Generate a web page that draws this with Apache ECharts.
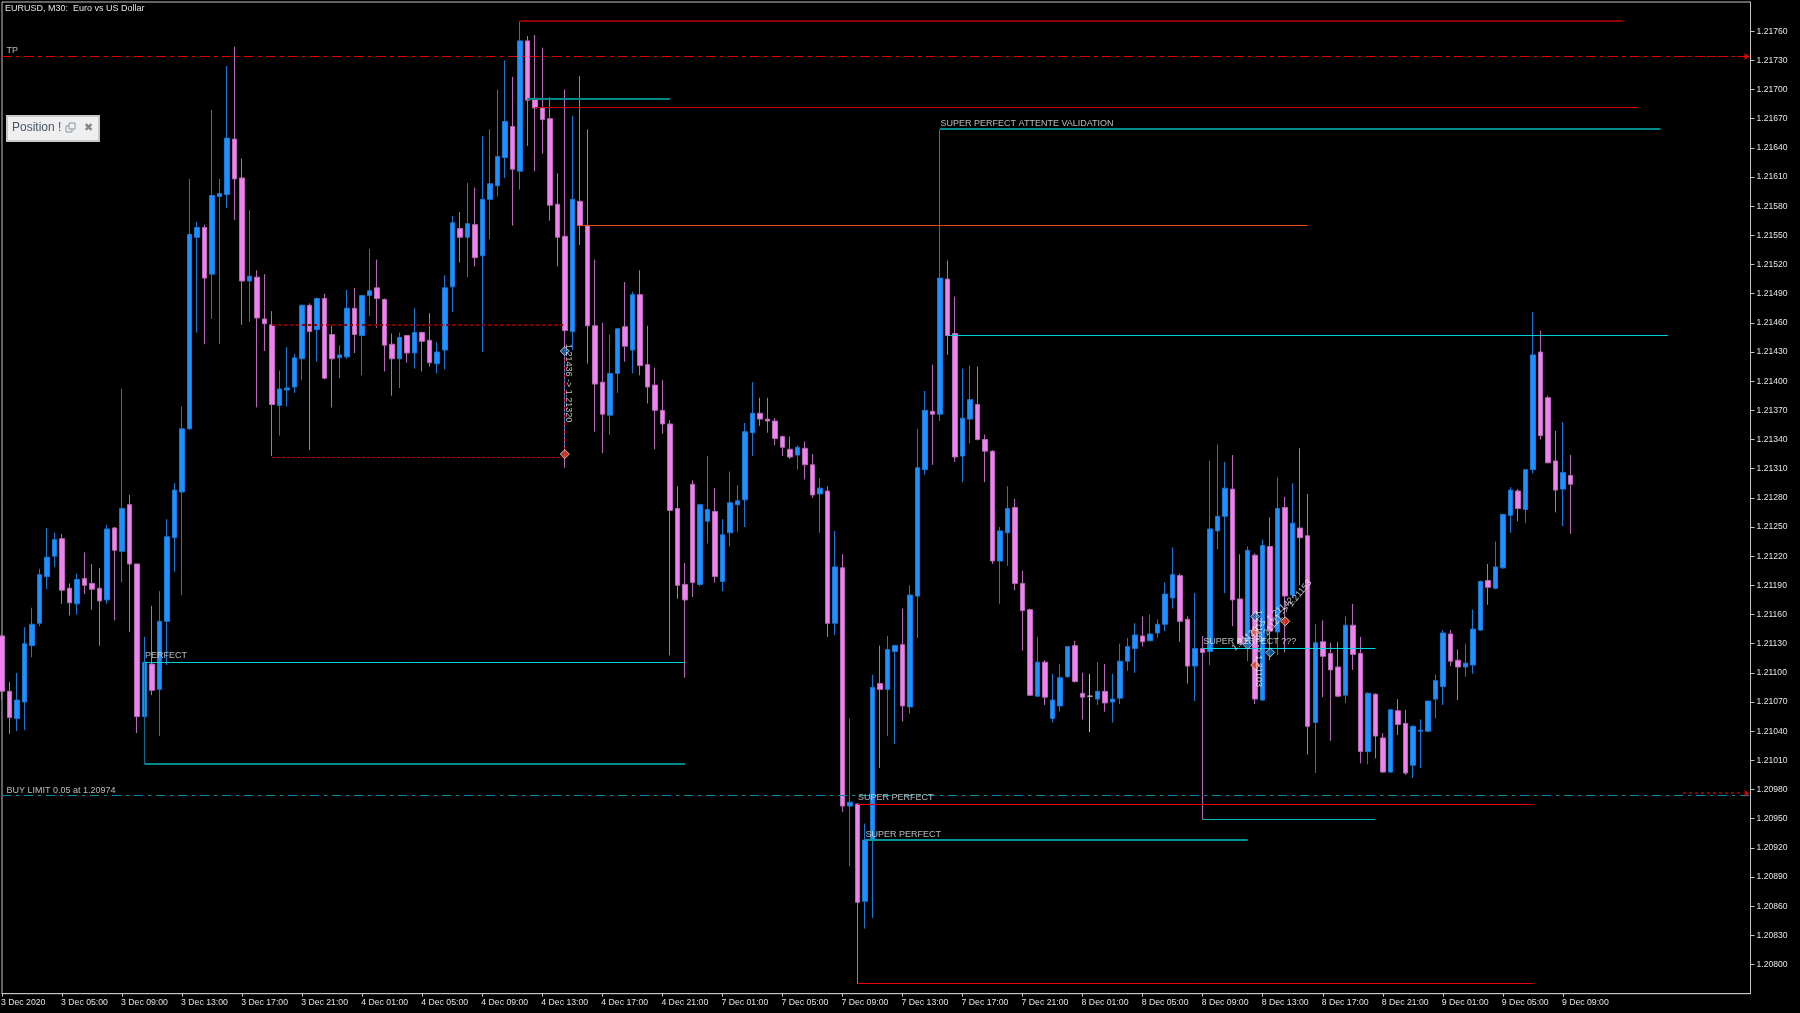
<!DOCTYPE html>
<html>
<head>
<meta charset="utf-8">
<style>html,body{margin:0;padding:0;background:#000;}#chart{width:1800px;height:1013px;}</style>
<script src="https://cdn.jsdelivr.net/npm/echarts@6/dist/echarts.min.js"></script>
</head>
<body>
<div id="chart"></div>
<script>
const chartTitle = "EURUSD, M30:  Euro vs US Dollar";
const tickLabels = ["3 Dec 2020","3 Dec 05:00","3 Dec 09:00","3 Dec 13:00","3 Dec 17:00","3 Dec 21:00","4 Dec 01:00","4 Dec 05:00","4 Dec 09:00","4 Dec 13:00","4 Dec 17:00","4 Dec 21:00","7 Dec 01:00","7 Dec 05:00","7 Dec 09:00","7 Dec 13:00","7 Dec 17:00","7 Dec 21:00","8 Dec 01:00","8 Dec 05:00","8 Dec 09:00","8 Dec 13:00","8 Dec 17:00","8 Dec 21:00","9 Dec 01:00","9 Dec 05:00","9 Dec 09:00"];
const priceTicks = [1.21760,1.21730,1.21700,1.21670,1.21640,1.21610,1.21580,1.21550,1.21520,1.21490,1.21460,1.21430,1.21400,1.21370,1.21340,1.21310,1.21280,1.21250,1.21220,1.21190,1.21160,1.21130,1.21100,1.21070,1.21040,1.21010,1.20980,1.20950,1.20920,1.20890,1.20860,1.20830,1.20800];

const opens = [1.21138,1.21081,1.21053,1.21070,1.21128,1.21151,1.21199,1.21220,1.21238,1.21187,
1.21171,1.21197,1.21192,1.21187,1.21175,1.21249,1.21225,1.21273,1.21212,1.21055,
1.21109,1.21083,1.21153,1.21239,1.21286,1.21351,1.21548,1.21558,1.21510,1.21590,
1.21592,1.21649,1.21609,1.21503,1.21507,1.21464,1.21458,1.21375,1.21391,1.21394,
1.21423,1.21478,1.21453,1.21485,1.21448,1.21424,1.21425,1.21475,1.21447,1.21488,
1.21496,1.21484,1.21438,1.21423,1.21447,1.21429,1.21450,1.21442,1.21418,1.21432,
1.21497,1.21557,1.21548,1.21561,1.21529,1.21587,1.21601,1.21630,1.21662,1.21616,
1.21750,1.21691,1.21681,1.21670,1.21582,1.21549,1.21451,1.21585,1.21560,1.21457,
1.21399,1.21365,1.21408,1.21456,1.21432,1.21489,1.21417,1.21396,1.21370,1.21356,
1.21269,1.21191,1.21294,1.21191,1.21256,1.21266,1.21194,1.21244,1.21273,1.21278,
1.21347,1.21367,1.21361,1.21359,1.21343,1.21330,1.21324,1.21331,1.21314,1.21284,
1.21287,1.21151,1.21208,1.20963,1.20965,1.20865,1.20928,1.21089,1.21083,1.21122,
1.21129,1.21065,1.21179,1.21309,1.21369,1.21366,1.21505,1.21449,1.21323,1.21361,
1.21376,1.21340,1.21328,1.21215,1.21244,1.21270,1.21192,1.21165,1.21076,1.21111,
1.21053,1.21066,1.21096,1.21128,1.21079,1.21076,1.21073,1.21081,1.21070,1.21074,
1.21112,1.21125,1.21138,1.21133,1.21141,1.21150,1.21177,1.21200,1.21155,1.21107,
1.21125,1.21122,1.21246,1.21261,1.21289,1.21176,1.21127,1.21221,1.21072,1.21230,
1.21142,1.21270,1.21180,1.21249,1.21241,1.21049,1.21132,1.21120,1.21106,1.21077,
1.21149,1.21120,1.21019,1.21078,1.21033,1.20998,1.21061,1.21048,1.21005,1.21040,
1.21040,1.21073,1.21086,1.21140,1.21113,1.21106,1.21108,1.21144,1.21195,1.21187,
1.21208,1.21262,1.21287,1.21268,1.21309,1.21430,1.21383,1.21318,1.21289,1.21303];

const closes = [1.21081,1.21054,1.21072,1.21130,1.21150,1.21201,1.21219,1.21237,1.21185,1.21172,
1.21196,1.21190,1.21186,1.21174,1.21248,1.21226,1.21269,1.21212,1.21055,1.21111,
1.21082,1.21153,1.21240,1.21288,1.21351,1.21551,1.21558,1.21506,1.21591,1.21593,
1.21650,1.21608,1.21503,1.21508,1.21465,1.21459,1.21376,1.21392,1.21393,1.21424,
1.21478,1.21451,1.21485,1.21403,1.21423,1.21427,1.21475,1.21448,1.21488,1.21493,
1.21485,1.21437,1.21423,1.21445,1.21429,1.21450,1.21441,1.21419,1.21430,1.21496,
1.21563,1.21548,1.21562,1.21527,1.21587,1.21603,1.21631,1.21667,1.21618,1.21750,
1.21689,1.21681,1.21669,1.21581,1.21548,1.21452,1.21587,1.21560,1.21457,1.21397,
1.21366,1.21408,1.21454,1.21436,1.21489,1.21416,1.21394,1.21370,1.21356,1.21267,
1.21190,1.21175,1.21193,1.21273,1.21268,1.21199,1.21242,1.21275,1.21277,1.21348,
1.21367,1.21361,1.21359,1.21341,1.21332,1.21322,1.21332,1.21314,1.21283,1.21290,
1.21151,1.21209,1.20963,1.20967,1.20864,1.20928,1.21085,1.21083,1.21124,1.21128,
1.21066,1.21180,1.21311,1.21370,1.21366,1.21506,1.21447,1.21322,1.21362,1.21381,
1.21340,1.21328,1.21215,1.21246,1.21269,1.21192,1.21164,1.21077,1.21111,1.21075,
1.21072,1.21095,1.21127,1.21091,1.21075,1.21076,1.21081,1.21069,1.21073,1.21112,
1.21127,1.21139,1.21132,1.21140,1.21150,1.21181,1.21201,1.21153,1.21107,1.21125,
1.21121,1.21248,1.21261,1.21290,1.21175,1.21130,1.21226,1.21073,1.21231,1.21143,
1.21269,1.21179,1.21254,1.21239,1.21045,1.21131,1.21117,1.21103,1.21076,1.21149,
1.21119,1.21019,1.21079,1.21035,1.20998,1.21062,1.21047,1.20997,1.21045,1.21041,
1.21071,1.21092,1.21141,1.21112,1.21106,1.21110,1.21145,1.21194,1.21188,1.21209,
1.21263,1.21288,1.21269,1.21309,1.21427,1.21344,1.21316,1.21288,1.21306,1.21294];

const highs = [1.21140,1.21091,1.21100,1.21147,1.21167,1.21207,1.21249,1.21244,1.21243,1.21192,
1.21202,1.21224,1.21212,1.21208,1.21252,1.21250,1.21392,1.21283,1.21212,1.21137,
1.21169,1.21184,1.21258,1.21295,1.21374,1.21608,1.21564,1.21561,1.21679,1.21608,
1.21724,1.21744,1.21629,1.21576,1.21514,1.21510,1.21472,1.21411,1.21435,1.21428,
1.21479,1.21480,1.21486,1.21490,1.21457,1.21437,1.21494,1.21496,1.21488,1.21536,
1.21525,1.21485,1.21449,1.21450,1.21447,1.21475,1.21451,1.21470,1.21440,1.21509,
1.21570,1.21574,1.21604,1.21599,1.21652,1.21659,1.21700,1.21730,1.21713,1.21770,
1.21755,1.21756,1.21743,1.21692,1.21614,1.21700,1.21673,1.21714,1.21659,1.21525,
1.21460,1.21448,1.21454,1.21502,1.21492,1.21514,1.21457,1.21414,1.21401,1.21360,
1.21292,1.21213,1.21298,1.21274,1.21323,1.21290,1.21258,1.21307,1.21293,1.21357,
1.21399,1.21383,1.21383,1.21362,1.21344,1.21343,1.21334,1.21338,1.21325,1.21300,
1.21292,1.21246,1.21222,1.21053,1.20966,1.20945,1.21098,1.21128,1.21138,1.21129,
1.21166,1.21190,1.21351,1.21390,1.21417,1.21659,1.21524,1.21487,1.21413,1.21416,
1.21415,1.21345,1.21329,1.21250,1.21292,1.21279,1.21205,1.21166,1.21137,1.21113,
1.21099,1.21109,1.21127,1.21133,1.21100,1.21099,1.21111,1.21109,1.21099,1.21130,
1.21136,1.21151,1.21158,1.21160,1.21155,1.21193,1.21229,1.21202,1.21158,1.21182,
1.21138,1.21318,1.21335,1.21317,1.21324,1.21222,1.21230,1.21223,1.21237,1.21260,
1.21301,1.21281,1.21295,1.21331,1.21284,1.21150,1.21154,1.21131,1.21132,1.21158,
1.21171,1.21137,1.21080,1.21079,1.21038,1.21063,1.21073,1.21062,1.21046,1.21052,
1.21071,1.21098,1.21144,1.21144,1.21124,1.21130,1.21165,1.21195,1.21212,1.21235,
1.21263,1.21291,1.21289,1.21309,1.21471,1.21452,1.21385,1.21349,1.21358,1.21324];

const lows = [1.21072,1.21037,1.21040,1.21041,1.21116,1.21148,1.21186,1.21209,1.21171,1.21159,
1.21160,1.21181,1.21165,1.21128,1.21171,1.21154,1.21193,1.21142,1.21038,1.21031,
1.21077,1.21035,1.21108,1.21204,1.21180,1.21350,1.21450,1.21438,1.21464,1.21438,
1.21578,1.21566,1.21458,1.21461,1.21373,1.21431,1.21323,1.21344,1.21374,1.21388,
1.21401,1.21329,1.21420,1.21402,1.21373,1.21403,1.21423,1.21429,1.21406,1.21467,
1.21455,1.21410,1.21385,1.21393,1.21419,1.21413,1.21410,1.21415,1.21408,1.21412,
1.21471,1.21522,1.21507,1.21518,1.21430,1.21546,1.21590,1.21609,1.21560,1.21597,
1.21642,1.21616,1.21634,1.21565,1.21518,1.21311,1.21432,1.21540,1.21418,1.21348,
1.21326,1.21345,1.21388,1.21420,1.21408,1.21406,1.21377,1.21330,1.21346,1.21118,
1.21176,1.21095,1.21178,1.21189,1.21233,1.21193,1.21184,1.21230,1.21245,1.21250,
1.21323,1.21354,1.21347,1.21334,1.21323,1.21320,1.21309,1.21299,1.21280,1.21244,
1.21137,1.21139,1.20957,1.20901,1.20780,1.20837,1.20848,1.21002,1.21035,1.21027,
1.21050,1.21058,1.21136,1.21304,1.21314,1.21359,1.21427,1.21317,1.21296,1.21336,
1.21339,1.21296,1.21212,1.21171,1.21210,1.21185,1.21123,1.21076,1.21076,1.21067,
1.21049,1.21060,1.21095,1.21090,1.21052,1.21039,1.21067,1.21060,1.21049,1.21068,
1.21102,1.21100,1.21127,1.21133,1.21136,1.21143,1.21166,1.21132,1.21089,1.21071,
1.20949,1.21108,1.21227,1.21182,1.21148,1.21129,1.21112,1.21068,1.21071,1.21113,
1.21118,1.21121,1.21177,1.21190,1.21016,1.20997,1.21075,1.21030,1.21075,1.21069,
1.21103,1.21007,1.21006,1.21012,1.20997,1.20997,1.21036,1.20995,1.20992,1.21002,
1.21039,1.21053,1.21067,1.21107,1.21072,1.21096,1.21099,1.21143,1.21170,1.21186,
1.21207,1.21244,1.21256,1.21254,1.21305,1.21340,1.21316,1.21265,1.21251,1.21243];

// Drawn objects on the chart: [first bar, last bar, price]
const levelTopDark = [69, 216, 1.21770];
const levelTakeProfit = [0, 233, 1.21734];
const levelTakeProfitTail = [224, 232, 1.21734];
const levelTealHigh = [70, 89, 1.21690];
const levelRedHigh = [71, 218, 1.21682];
const levelAttente = [125, 221, 1.21659];
const levelOrange = [77, 174, 1.21560];
const levelCyanMid = [126, 222, 1.21447];
const levelDottedOpen = [36, 75, 1.21458];
const levelDashedStop = [36, 75, 1.21322];
const levelPerfect = [19, 91, 1.21111];
const levelPerfectLow = [19, 91, 1.21006];
const levelBuyLimit = [0, 233, 1.20974];
const levelBidTail = [224, 232, 1.20976];
const levelSuperRed = [114, 204, 1.20965];
const levelSuperRedLow = [114, 204, 1.20780];
const levelSuperTeal = [115, 166, 1.20928];
const levelQuestion = [160, 183, 1.21125];
const levelQuestionLow = [160, 183, 1.20949];
// Vertical pieces: [bar, price from, price to]
const edgePerfect = [19, 1.21111, 1.21006];
const tradeConnector = [75, 1.21431, 1.21325];

const textLabels = [
  ["TP", 0, 1.21740],
  ["BUY LIMIT 0.05 at 1.20974", 0, 1.20979],
  ["PERFECT", 19, 1.21118],
  ["SUPER PERFECT ATTENTE VALIDATION", 125, 1.21665],
  ["SUPER PERFECT", 114, 1.20972],
  ["SUPER PERFECT", 115, 1.20934],
  ["SUPER PERFECT ???", 160, 1.21132]
];
const tradeTexts = [
  ["1.21436 -> 1.21320", 75, 1.21398],
  ["1.21157 -> 1.21103", 167, 1.21125],
  ["1.21129 -> 1.21142", 168, 1.21150],
  ["1.21121 -> 1.21153", 171, 1.21164]
];
const entryMarks = [[75, 1.21431], [167, 1.21158], [166, 1.21129], [169, 1.21121]];
const exitMarks = [[75, 1.21325], [167, 1.21142], [167, 1.21108], [171, 1.21153]];
const priceArrows = [[232, 1.21734], [232, 1.20976]];

const BAR_SLOTS = 234;
const categories = Array.from({length: BAR_SLOTS}, (_, i) => (i % 8 === 0 && tickLabels[i / 8]) ? tickLabels[i / 8] : "");
const candleData = opens.map((o, i) => [o, closes[i], lows[i], highs[i]]);
const AXIS = "#c4c4c4", TXT = "#e4e4e4", FONT = "Liberation Sans";

const snap = (v, w) => (Math.round(w) % 2 ? Math.floor(v) + 0.5 : Math.round(v));
function level(seg, color, width, dash) {
  return {type: "custom", data: [seg], z: 5, silent: true, animation: false, clip: true,
    renderItem: (params, api) => {
      const a = api.coord([api.value(0), api.value(2)]);
      const b = api.coord([api.value(1), api.value(2)]);
      const y = snap(a[1], width);
      return {type: "line", shape: {x1: a[0], y1: y, x2: b[0], y2: y},
        style: {stroke: color, lineWidth: width, lineDash: dash || null, fill: null}};
    }};
}
function vertical(seg, color, width, dash) {
  return {type: "custom", data: [seg], z: 5, silent: true, animation: false, clip: true,
    renderItem: (params, api) => {
      const a = api.coord([api.value(0), api.value(1)]);
      const b = api.coord([api.value(0), api.value(2)]);
      const x = snap(a[0], width);
      return {type: "line", shape: {x1: x, y1: a[1], x2: x, y2: b[1]},
        style: {stroke: color, lineWidth: width, lineDash: dash || null, fill: null}};
    }};
}
const DASHDOT = [9, 5, 3, 5];

const chart = echarts.init(document.getElementById("chart"), null, {renderer: "canvas"});
chart.setOption({
  backgroundColor: "#000",
  animation: false,
  title: {text: chartTitle, left: 5, top: 4, padding: 0, textStyle: {color: TXT, fontFamily: FONT, fontSize: 9, fontWeight: "normal"}},
  grid: {left: 2, right: 49.5, top: 2, height: 991.7, show: true, borderColor: AXIS, borderWidth: 1, backgroundColor: "#000", outerBoundsMode: "none", containLabel: false},
  xAxis: {type: "category", data: categories, boundaryGap: false,
    axisLine: {show: true, lineStyle: {color: AXIS}},
    axisTick: {show: true, length: 3, interval: (i, v) => v !== "", lineStyle: {color: AXIS}},
    axisLabel: {show: true, interval: (i, v) => v !== "", color: TXT, fontFamily: FONT, fontSize: 8.7, align: "left", margin: 4, padding: [0, 0, 0, -1], hideOverlap: false},
    splitLine: {show: false}},
  yAxis: {type: "value", position: "right", scale: true, min: 1.20770, max: 1.21790,
    axisLine: {show: true, lineStyle: {color: AXIS}},
    axisTick: {show: true, length: 4, customValues: priceTicks, lineStyle: {color: AXIS}},
    axisLabel: {show: true, customValues: priceTicks, color: TXT, fontFamily: FONT, fontSize: 8.6, margin: 6, formatter: v => v.toFixed(5)},
    splitLine: {show: false}},
  series: [
    {type: "candlestick", data: candleData, barWidth: 5, z: 2, silent: true, animation: false,
      itemStyle: {color: "#1E90FF", color0: "#EE82EE", borderColor: "#1878D8", borderColor0: "#B868B8", borderColorDoji: "#BDBDBD", borderWidth: 1}},
    level(levelTopDark, "#8B0000", 2),
    level(levelTakeProfit, "#E00000", 1, DASHDOT),
    level(levelTakeProfitTail, "#D00000", 1, [3, 3]),
    level(levelTealHigh, "#008B8B", 2),
    level(levelRedHigh, "#D00000", 1),
    level(levelAttente, "#008B8B", 2),
    level(levelOrange, "#E8481E", 1),
    level(levelCyanMid, "#00CCD4", 1),
    level(levelDottedOpen, "#8B0000", 2, [3, 3]),
    level(levelDashedStop, "#CC0000", 1, [3, 2]),
    level(levelPerfect, "#00D0D8", 1),
    level(levelPerfectLow, "#008B8B", 2),
    vertical(edgePerfect, "#0A6F8F", 1),
    level(levelBuyLimit, "#0A86A8", 1, DASHDOT),
    level(levelBidTail, "#8B0000", 2, [3, 3]),
    level(levelSuperRed, "#E80000", 1),
    level(levelSuperRedLow, "#E80000", 1),
    level(levelSuperTeal, "#009898", 2),
    level(levelQuestion, "#00D8E8", 1),
    level(levelQuestionLow, "#00B8B8", 1),
    vertical(tradeConnector, "#1E6FC0", 1, [2, 2]),
    vertical(tradeConnector, "#CC2020", 1, [2, 6]),
    {type: "scatter", data: entryMarks, symbol: "diamond", symbolSize: 9, z: 7, silent: true, animation: false,
      itemStyle: {color: "#1768B8", borderColor: "#E8E8E8", borderWidth: 1}},
    {type: "scatter", data: exitMarks, symbol: "diamond", symbolSize: 9, z: 7, silent: true, animation: false,
      itemStyle: {color: "#E84020", borderColor: "#F0E0E0", borderWidth: 1}},
    {type: "scatter", data: priceArrows, symbol: "triangle", symbolRotate: -90, symbolSize: [7, 5], symbolOffset: [4, 0], z: 7, silent: true, animation: false,
      itemStyle: {color: "#FF0000"}},
    {type: "scatter", symbolSize: 1, z: 8, silent: true, animation: false, itemStyle: {color: "transparent"},
      data: textLabels.map(t => ({name: t[0], value: [t[1], t[2]], label: t[1] === 0 ? {offset: [4, 0]} : {}})),
      label: {show: true, formatter: p => p.name, position: "right", distance: 0, color: TXT, fontFamily: FONT, fontSize: 9}},
    {type: "scatter", symbolSize: 1, z: 8, silent: true, animation: false, itemStyle: {color: "transparent"},
      data: [
        {name: tradeTexts[0][0], value: [tradeTexts[0][1], tradeTexts[0][2]], label: {rotate: -90, offset: [0, -4]}},
        {name: tradeTexts[1][0], value: [tradeTexts[1][1], tradeTexts[1][2]], label: {rotate: -90, offset: [0, -3]}},
        {name: tradeTexts[2][0], value: [tradeTexts[2][1], tradeTexts[2][2]], label: {rotate: 40}},
        {name: tradeTexts[3][0], value: [tradeTexts[3][1], tradeTexts[3][2]], label: {rotate: 50}}
      ],
      label: {show: true, formatter: p => p.name, position: "inside", align: "center", verticalAlign: "middle", color: "#F0F0F0", fontFamily: FONT, fontSize: 9}}
  ],
  graphic: [
    {type: "group", left: 6, top: 115, silent: true, children: [
      {type: "rect", shape: {x: 0, y: 0, width: 92, height: 25}, style: {fill: "#EFEFEF", stroke: "#C8C8C8", lineWidth: 2}},
      {type: "text", x: 5, y: 6, style: {text: "Position !", fill: "#44566A", font: "12px 'Liberation Sans'"}},
      {type: "rect", shape: {x: 59, y: 10, width: 6, height: 6}, style: {fill: "none", stroke: "#8A96A0", lineWidth: 1}},
      {type: "rect", shape: {x: 62, y: 7, width: 6, height: 6}, style: {fill: "#EFEFEF", stroke: "#8A96A0", lineWidth: 1}},
      {type: "text", x: 77, y: 7, style: {text: "\u2716", fill: "#808890", font: "11px 'DejaVu Sans'"}}
    ]}
  ]
});
</script>
</body>
</html>
